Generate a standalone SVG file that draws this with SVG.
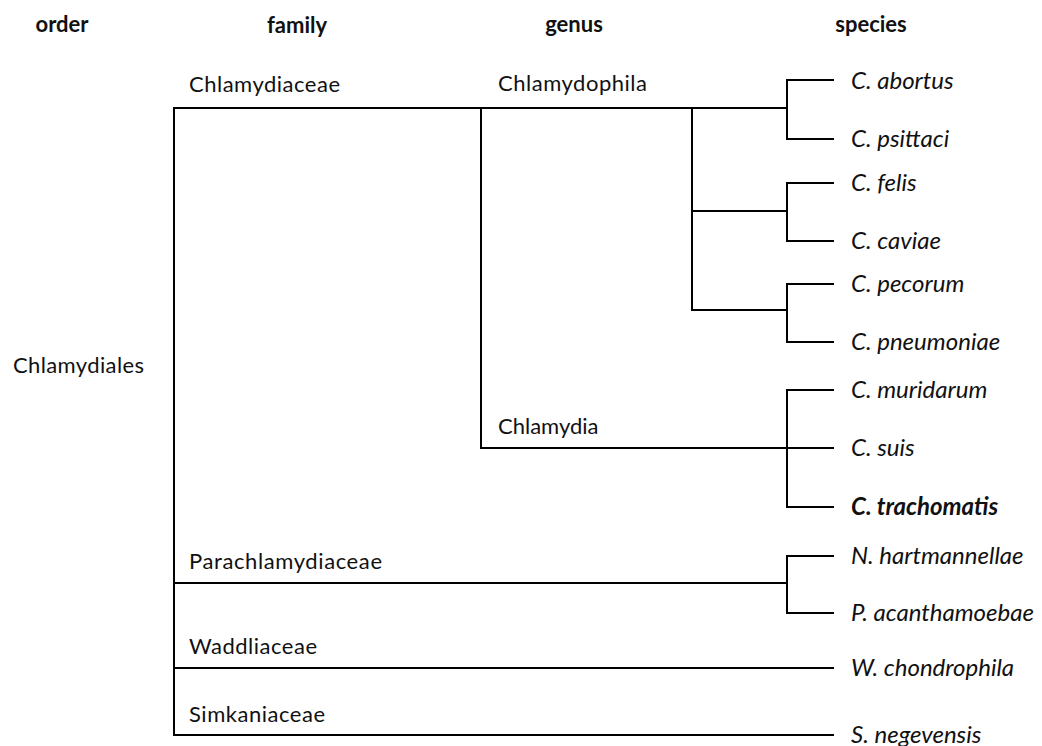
<svg xmlns="http://www.w3.org/2000/svg" width="1042" height="746" viewBox="0 0 1042 746">
<style>
text{font-family:Lato,"Liberation Sans",sans-serif;font-size:22px;fill:#111}
.h{font-weight:bold;text-anchor:middle}
.sp{font-style:italic;font-size:24px}
.b{font-weight:bold}
.ln{fill:none;stroke:#000;stroke-width:2;stroke-linecap:square}
</style>
<rect width="1042" height="746" fill="#fff"/>
<g id="headers">
<text class="h" x="62" y="32">order</text>
<text class="h" x="297" y="33">family</text>
<text class="h" x="574" y="32">genus</text>
<text class="h" x="871" y="32">species</text>
</g>
<g id="connectors">
<path class="ln" d="M174 108V735 M174 108H787 M481 108V448 M692 108V310 M692 211H787 M692 310H787 M481 448H833 M174 583H787 M174 668H833 M174 735H833"/>
<path class="ln" d="M787 80V139 M787 183V241 M787 284V342 M787 390V507 M787 556V613"/>
<path class="ln" d="M787 80H833 M787 139H833 M787 183H833 M787 241H833 M787 284H833 M787 342H833 M787 390H833 M787 507H833 M787 556H833 M787 613H833"/>
</g>
<g id="order-Chlamydiales"><text x="13" y="373" textLength="131">Chlamydiales</text></g>
<g id="family-Chlamydiaceae"><text x="189" y="92" textLength="151">Chlamydiaceae</text></g>
<g id="family-Parachlamydiaceae"><text x="189" y="569" textLength="193">Parachlamydiaceae</text></g>
<g id="family-Waddliaceae"><text x="189" y="654" textLength="128">Waddliaceae</text></g>
<g id="family-Simkaniaceae"><text x="189" y="722" textLength="136">Simkaniaceae</text></g>
<g id="genus-Chlamydophila"><text x="498" y="91" textLength="149">Chlamydophila</text></g>
<g id="genus-Chlamydia"><text x="498" y="434">Chlamydia</text></g>
<g id="sp-abortus"><text class="sp" x="851" y="89">C. abortus</text></g>
<g id="sp-psittaci"><text class="sp" x="851" y="147">C. psittaci</text></g>
<g id="sp-felis"><text class="sp" x="851" y="191">C. felis</text></g>
<g id="sp-caviae"><text class="sp" x="851" y="249">C. caviae</text></g>
<g id="sp-pecorum"><text class="sp" x="851" y="292">C. pecorum</text></g>
<g id="sp-pneumoniae"><text class="sp" x="851" y="350">C. pneumoniae</text></g>
<g id="sp-muridarum"><text class="sp" x="851" y="398">C. muridarum</text></g>
<g id="sp-suis"><text class="sp" x="851" y="456">C. suis</text></g>
<g id="sp-trachomatis"><text class="sp b" x="851" y="515">C. trachomatis</text></g>
<g id="sp-hartmannellae"><text class="sp" x="851" y="564">N. hartmannellae</text></g>
<g id="sp-acanthamoebae"><text class="sp" x="851" y="621">P. acanthamoebae</text></g>
<g id="sp-chondrophila"><text class="sp" x="851" y="676">W. chondrophila</text></g>
<g id="sp-negevensis"><text class="sp" x="851" y="743">S. negevensis</text></g>
</svg>
